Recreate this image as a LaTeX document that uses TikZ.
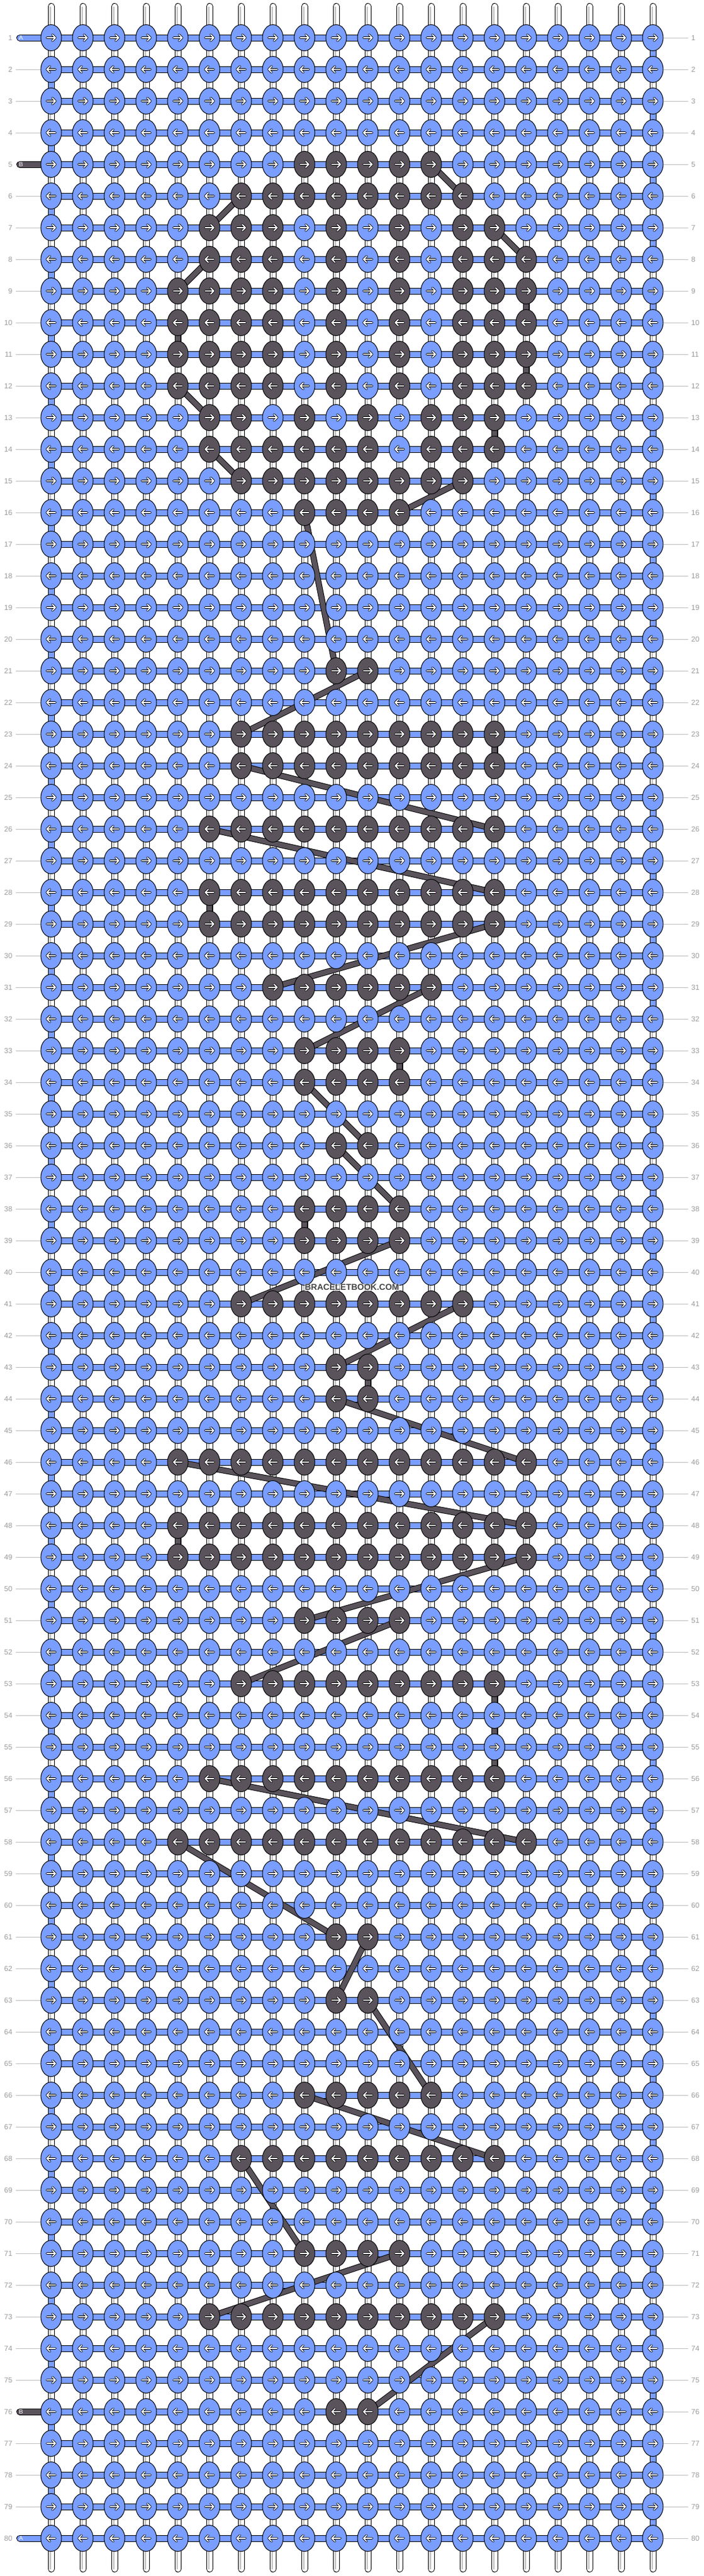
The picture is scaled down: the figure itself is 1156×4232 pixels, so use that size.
\documentclass[tikz,border=0pt]{standalone}
\usepackage{fontspec}
\setsansfont{Liberation Sans}
\usepackage{xcolor}
\usepackage{tikz}
\usetikzlibrary{shapes.geometric}
\definecolor{knotblue}{HTML}{7A9EFF}
\definecolor{knotdark}{HTML}{5A535C}
\definecolor{rownum}{HTML}{9A9A9A}
\definecolor{leadgrey}{HTML}{BDBDBD}
\definecolor{warpgrey}{HTML}{BFBFBF}
\definecolor{markgrey}{HTML}{444444}
\pgfdeclarelayer{warp}
\pgfdeclarelayer{bars}
\pgfdeclarelayer{thread}
\pgfsetlayers{warp,bars,thread,main}
\tikzset{
  knot/.style={ellipse,draw=black,line width=1pt,minimum width=34pt,minimum height=43pt,inner sep=0pt},
  bluebar/.style={draw=black,line width=1pt,double=knotblue,double distance=9pt},
  darkbar/.style={draw=black,line width=1pt,double=knotdark,double distance=8pt},
  tailbar/.style={draw=black,line width=1pt,double=#1,double distance=9pt,line cap=round},
  warpline/.style={draw=black,line width=1pt,double=white,double distance=9pt,line cap=round},
  warpcore/.style={draw=warpgrey,line width=1.5pt},
  leader/.style={draw=leadgrey,line width=1pt},
  arrowout/.style={draw=black,line width=3.6pt,line cap=round,line join=round},
  arrowin/.style={draw=white,line width=1.8pt,line cap=round,line join=round},
  rowlabel/.style={inner sep=0pt,text=rownum,font=\sffamily\fontsize{12}{12}\selectfont},
  taillabel/.style={inner sep=0pt,anchor=west,text=white,font=\sffamily\fontsize{10}{10}\selectfont}
}
\newcommand\rightarrows[2]{%
  \draw[#2] \foreach \kc in {1,...,20} {(k-#1-\kc.center) ++(-7,0) -- ++(14,0) ++(-5,-5) -- ++(5,5) -- ++(-5,5)};}
\newcommand\leftarrows[2]{%
  \draw[#2] \foreach \kc in {1,...,20} {(k-#1-\kc.center) ++(7,0) -- ++(-14,0) ++(5,-5) -- ++(-5,5) -- ++(5,5)};}

\begin{document}
\begin{tikzpicture}[x=1pt,y=-1pt]
  \useasboundingbox (0,0) rectangle (1156,4232);
  \foreach \kr/\kcs in {5/{9,...,13},6/{7,...,14},7/{6,7,8,10,12,14,15},8/{6,7,8,10,12,14,15,16},
      9/{5,6,7,8,10,12,14,15,16},10/{5,6,7,8,10,12,14,15,16},11/{5,6,7,8,10,12,14,15,16},
      12/{5,6,7,8,10,12,14,15,16},13/{6,7,9,11,13,14,15},14/{6,7,8,9,10,11,13,14,15},
      15/{7,...,14},16/{9,...,12},21/{10,11},23/{7,...,15},24/{7,...,15},26/{6,...,15},
      28/{6,...,15},29/{6,...,15},31/{8,...,13},33/{9,...,12},34/{9,...,12},36/{10,11},
      38/{9,...,12},39/{9,...,12},41/{7,...,14},43/{10,11},44/{10,11},46/{5,...,16},
      48/{5,...,16},49/{5,...,16},51/{9,...,12},53/{7,...,15},56/{6,...,15},58/{5,...,16},
      61/{10,11},63/{10,11},66/{9,...,13},68/{7,...,15},71/{9,...,12},73/{6,...,15},76/{10,11}}
    {\foreach \kc in \kcs {\expandafter\gdef\csname dk-\kr-\kc\endcsname{}}}

  \foreach \kr in {1,...,80} {
    \foreach \kc in {1,...,20} {
      \ifcsname dk-\kr-\kc\endcsname\def\kfill{knotdark}\else\def\kfill{knotblue}\fi
      \node[knot,fill=\kfill] (k-\kr-\kc) at ({84+52*(\kc-1)},{62+52*(\kr-1)}) {};
    }
    \ifodd\kr \rightarrows{\kr}{arrowout}\rightarrows{\kr}{arrowin}%
    \else \leftarrows{\kr}{arrowout}\leftarrows{\kr}{arrowin}\fi
    \node[rowlabel,anchor=east] (nl-\kr) at (20.5,{62+52*(\kr-1)}) {\kr};
    \node[rowlabel,anchor=west] (nr-\kr) at (1135,{62+52*(\kr-1)}) {\kr};
  }

  \foreach \kc in {1,...,20} {
    \coordinate (wt-\kc) at ({84+52*(\kc-1)},10.5);
    \coordinate (wb-\kc) at ({84+52*(\kc-1)},4220.5);
  }
  \coordinate (tail-1) at (32.5,62);
  \coordinate (tail-5) at (32.5,270);
  \coordinate (tail-76) at (32.5,3962);
  \coordinate (tail-80) at (32.5,4170);

  \begin{pgfonlayer}{warp}
    \foreach \kc in {1,...,20} {
      \draw[warpline] (wt-\kc) -- (wb-\kc);
      \draw[warpcore] ([xshift=-1pt]wt-\kc) -- ([xshift=-1pt]wb-\kc);
    }
  \end{pgfonlayer}

  \begin{pgfonlayer}{bars}
    \foreach \kr in {1,...,80}
      \draw[bluebar] (k-\kr-1.center) -- (k-\kr-20.center);
    \foreach \kr [evaluate=\kr as \kn using int(\kr+1)] in {1,...,79} {
      \ifodd\kr \draw[bluebar] (k-\kr-20.center) -- (k-\kn-20.center);
      \else \draw[bluebar] (k-\kr-1.center) -- (k-\kn-1.center);\fi
    }
    \draw[tailbar=knotblue] (tail-1) -- (k-1-1.center);
    \draw[tailbar=knotdark] (tail-5) -- (k-5-1.center);
    \draw[tailbar=knotdark] (tail-76) -- (k-76-1.center);
    \draw[tailbar=knotblue] (tail-80) -- (k-80-1.center);
    \foreach \kr in {2,3,4,6,7,...,75,77,78,79}
      \draw[leader] ([xshift=5.5pt]nl-\kr.east) -- (k-\kr-1.west);
    \foreach \kr in {1,...,80}
      \draw[leader] ([xshift=-5pt]nr-\kr.west) -- (k-\kr-20.east);
  \end{pgfonlayer}

  \begin{pgfonlayer}{thread}
    \foreach \ra/\ca/\rb/\cb in {5/13/6/14,6/7/7/6,7/15/8/16,8/6/9/5,9/16/10/16,10/5/11/5,
        11/16/12/16,12/5/13/6,13/15/14/15,14/6/15/7,15/14/16/12,16/9/21/10,21/11/23/7,
        23/15/24/15,24/7/26/15,26/6/28/15,28/6/29/6,29/15/31/8,31/13/33/9,33/12/34/12,
        34/9/36/11,36/10/38/12,38/9/39/9,39/12/41/7,41/14/43/10,43/11/44/11,44/10/46/16,
        46/5/48/16,48/5/49/5,49/16/51/9,51/12/53/7,53/15/56/15,56/6/58/16,58/5/61/10,
        61/11/63/10,63/11/66/13,66/9/68/15,68/7/71/9,71/12/73/6,73/15/76/11}
      \draw[darkbar] (k-\ra-\ca.center) -- (k-\rb-\cb.center);
  \end{pgfonlayer}

  \node[taillabel] (tl-1) at (31,62) {A};
  \node[taillabel] (tl-5) at (31,270) {B};
  \node[taillabel] (tl-76) at (31,3962) {B};
  \node[taillabel] (tl-80) at (31,4170) {A};

  \node[font=\sffamily\bfseries\fontsize{14}{14}\selectfont,text=markgrey,fill=white,
    fill opacity=0.6,text opacity=1,inner sep=1pt] (mark) at (578,2115) {BRACELETBOOK.COM};
\end{tikzpicture}
\end{document}
